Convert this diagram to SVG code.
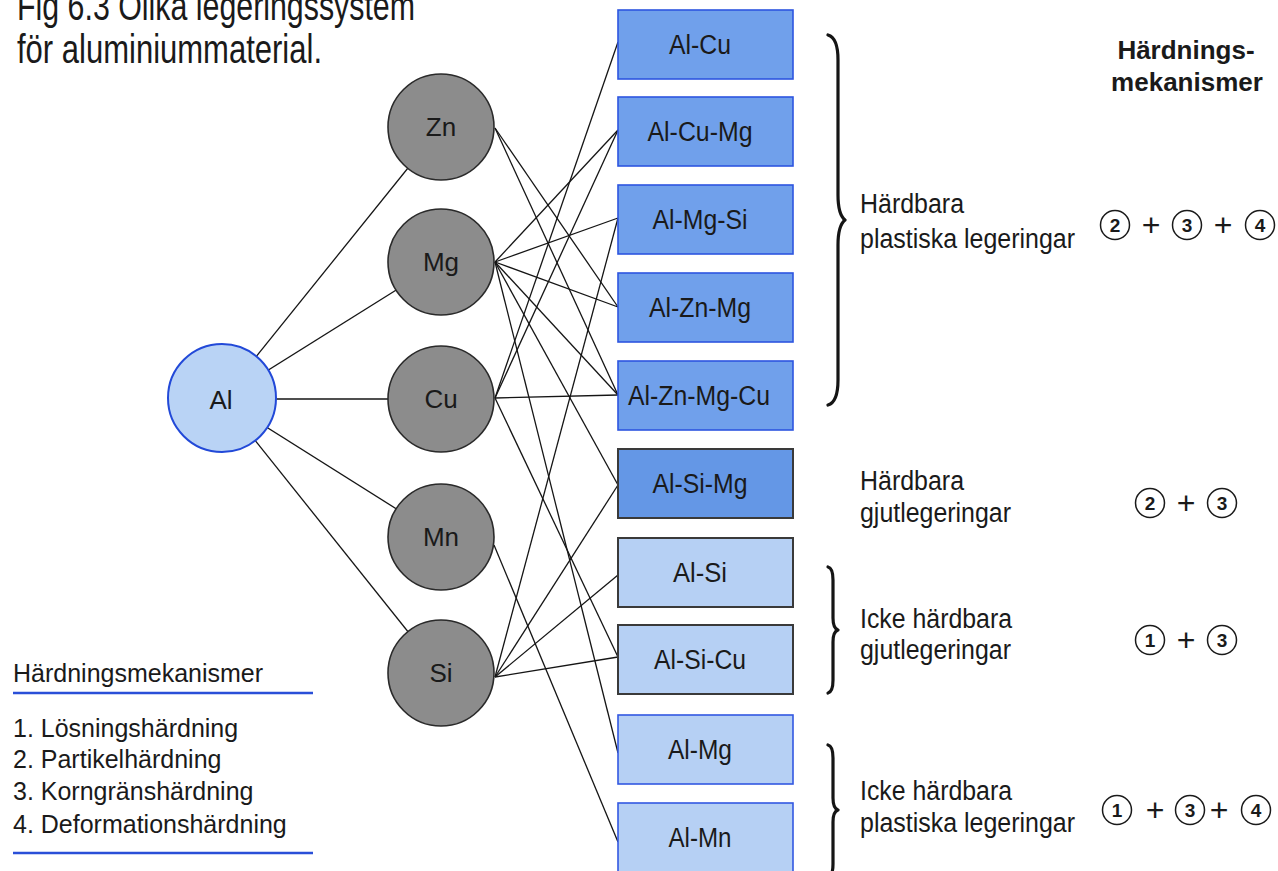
<svg xmlns="http://www.w3.org/2000/svg" width="1278" height="871" viewBox="0 0 1278 871">
  <style>
    text { font-family: "Liberation Sans", Arial, sans-serif; fill: #1a1a1a; }
    .title { font-size: 40px; }
    .head { font-size: 26px; font-weight: bold; text-anchor: middle; }
    .lbl { font-size: 27px; }
    .leg { font-size: 25px; }
    .node { font-size: 26px; text-anchor: middle; }
    .box { font-size: 27px; text-anchor: middle; }
    .elem { fill: #8c8c8c; stroke: #2a2a2a; stroke-width: 1.6; }
    .base { fill: #b9d3f5; stroke: #2249d8; stroke-width: 2; }
    .hardw { fill: #70a0eb; stroke: #2d55e0; stroke-width: 1.6; }
    .hardc { fill: #6497e6; stroke: #3a3a3a; stroke-width: 2; }
    .softc { fill: #b6d0f4; stroke: #3a3a3a; stroke-width: 2; }
    .softw { fill: #b6d0f4; stroke: #3358e2; stroke-width: 1.6; }
    .edge { stroke: #151515; stroke-width: 1.3; fill: none; }
    .brace { stroke: #151515; stroke-width: 3.2; fill: none; stroke-linecap: round; stroke-linejoin: round; }
    .rule { stroke: #2a4fd8; stroke-width: 2.5; }
    .num { fill: none; stroke: #1a1a1a; stroke-width: 1.5; }
    .dig { font-size: 19px; text-anchor: middle; font-weight: bold; }
    .plus { font-size: 32px; text-anchor: middle; }
  </style>

  <!-- caption -->
  <text class="title" x="17" y="20" textLength="398" lengthAdjust="spacingAndGlyphs">Fig 6.3 Olika legeringssystem</text>
  <text class="title" x="17" y="63" textLength="305" lengthAdjust="spacingAndGlyphs">för aluminiummaterial.</text>

  <!-- connectors -->
  <g id="connectors">
    <!-- Al to alloying elements -->
    <line class="edge" x1="222" y1="399" x2="441" y2="127"/>
    <line class="edge" x1="222" y1="399" x2="441" y2="262"/>
    <line class="edge" x1="222" y1="399" x2="441" y2="399"/>
    <line class="edge" x1="222" y1="399" x2="441" y2="537"/>
    <line class="edge" x1="222" y1="399" x2="441" y2="673"/>
    <!-- Zn -->
    <line class="edge" x1="495" y1="128" x2="618" y2="307"/>
    <line class="edge" x1="495" y1="128" x2="618" y2="395"/>
    <!-- Mg -->
    <line class="edge" x1="495" y1="262" x2="618" y2="130"/>
    <line class="edge" x1="495" y1="262" x2="618" y2="218"/>
    <line class="edge" x1="495" y1="262" x2="618" y2="307"/>
    <line class="edge" x1="495" y1="262" x2="618" y2="395"/>
    <line class="edge" x1="495" y1="262" x2="618" y2="485"/>
    <line class="edge" x1="495" y1="262" x2="618" y2="753"/>
    <!-- Cu -->
    <line class="edge" x1="495" y1="398" x2="618" y2="42"/>
    <line class="edge" x1="495" y1="398" x2="618" y2="130"/>
    <line class="edge" x1="495" y1="398" x2="618" y2="395"/>
    <line class="edge" x1="495" y1="398" x2="618" y2="657"/>
    <!-- Mn -->
    <line class="edge" x1="494" y1="545" x2="618" y2="842"/>
    <!-- Si -->
    <line class="edge" x1="495" y1="677" x2="618" y2="218"/>
    <line class="edge" x1="495" y1="677" x2="618" y2="485"/>
    <line class="edge" x1="495" y1="677" x2="618" y2="575"/>
    <line class="edge" x1="495" y1="677" x2="618" y2="657"/>
  </g>

  <!-- base metal -->
  <g id="n-al">
    <circle class="base" cx="222" cy="398" r="54"/>
    <text class="node" x="221" y="409">Al</text>
  </g>

  <!-- alloying elements -->
  <g id="n-zn"><circle class="elem" cx="441" cy="127" r="53"/><text class="node" x="441" y="136">Zn</text></g>
  <g id="n-mg"><circle class="elem" cx="441" cy="262" r="53"/><text class="node" x="441" y="271">Mg</text></g>
  <g id="n-cu"><circle class="elem" cx="441" cy="399" r="53"/><text class="node" x="441" y="408">Cu</text></g>
  <g id="n-mn"><circle class="elem" cx="441" cy="537" r="53"/><text class="node" x="441" y="546">Mn</text></g>
  <g id="n-si"><circle class="elem" cx="441" cy="673" r="53"/><text class="node" x="441" y="682">Si</text></g>

  <!-- alloy systems -->
  <g id="b-alcu"><rect class="hardw" x="618" y="10" width="175" height="69"/><text class="box" x="700" y="54" textLength="62" lengthAdjust="spacingAndGlyphs">Al-Cu</text></g>
  <g id="b-alcumg"><rect class="hardw" x="618" y="97" width="175" height="69"/><text class="box" x="700" y="141" textLength="105" lengthAdjust="spacingAndGlyphs">Al-Cu-Mg</text></g>
  <g id="b-almgsi"><rect class="hardw" x="618" y="185" width="175" height="69"/><text class="box" x="700" y="229" textLength="95" lengthAdjust="spacingAndGlyphs">Al-Mg-Si</text></g>
  <g id="b-alznmg"><rect class="hardw" x="618" y="273" width="175" height="69"/><text class="box" x="700" y="317" textLength="102" lengthAdjust="spacingAndGlyphs">Al-Zn-Mg</text></g>
  <g id="b-alznmgcu"><rect class="hardw" x="618" y="361" width="175" height="69"/><text class="box" x="699" y="405" textLength="142" lengthAdjust="spacingAndGlyphs">Al-Zn-Mg-Cu</text></g>
  <g id="b-alsimg"><rect class="hardc" x="618" y="449" width="175" height="69"/><text class="box" x="700" y="493" textLength="95" lengthAdjust="spacingAndGlyphs">Al-Si-Mg</text></g>
  <g id="b-alsi"><rect class="softc" x="618" y="538" width="175" height="69"/><text class="box" x="700" y="582" textLength="54" lengthAdjust="spacingAndGlyphs">Al-Si</text></g>
  <g id="b-alsicu"><rect class="softc" x="618" y="625" width="175" height="69"/><text class="box" x="700" y="669" textLength="92" lengthAdjust="spacingAndGlyphs">Al-Si-Cu</text></g>
  <g id="b-almg"><rect class="softw" x="618" y="715" width="175" height="69"/><text class="box" x="700" y="759" textLength="64" lengthAdjust="spacingAndGlyphs">Al-Mg</text></g>
  <g id="b-almn"><rect class="softw" x="618" y="803" width="175" height="69"/><text class="box" x="700" y="847" textLength="63" lengthAdjust="spacingAndGlyphs">Al-Mn</text></g>

  <!-- group braces -->
  <g id="braces">
    <path class="brace" d="M828,35 C835,37 838,45 838,60 L838,195 C838,209 840,216 845,220 C840,224 838,231 838,245 L838,380 C838,395 835,403 828,405"/>
    <path class="brace" d="M828,567 C832,568 833,573 833,580 L833,618 C833,625 835,629 838,630 C835,631 833,635 833,642 L833,680 C833,687 832,692 828,693"/>
    <path class="brace" d="M828,745 C832,746 833,751 833,758 L833,798 C833,805 835,809 838,810 C835,811 833,815 833,822 L833,864 C833,871 832,876 828,877"/>
  </g>

  <!-- group labels -->
  <g id="labels">
    <text class="lbl" x="860" y="213" textLength="104" lengthAdjust="spacingAndGlyphs">Härdbara</text>
    <text class="lbl" x="860" y="248" textLength="215" lengthAdjust="spacingAndGlyphs">plastiska legeringar</text>
    <text class="lbl" x="860" y="490" textLength="104" lengthAdjust="spacingAndGlyphs">Härdbara</text>
    <text class="lbl" x="860" y="522" textLength="151" lengthAdjust="spacingAndGlyphs">gjutlegeringar</text>
    <text class="lbl" x="860" y="628" textLength="152" lengthAdjust="spacingAndGlyphs">Icke härdbara</text>
    <text class="lbl" x="860" y="659" textLength="151" lengthAdjust="spacingAndGlyphs">gjutlegeringar</text>
    <text class="lbl" x="860" y="800" textLength="152" lengthAdjust="spacingAndGlyphs">Icke härdbara</text>
    <text class="lbl" x="860" y="832" textLength="215" lengthAdjust="spacingAndGlyphs">plastiska legeringar</text>
  </g>

  <!-- mechanism column -->
  <g id="mechanisms">
    <text class="head" x="1186" y="59">Härdnings-</text>
    <text class="head" x="1187" y="91">mekanismer</text>

    <circle class="num" cx="1115" cy="225" r="14.5"/><text class="dig" x="1115" y="232">2</text>
    <text class="plus" x="1151" y="236">+</text>
    <circle class="num" cx="1187" cy="225" r="14.5"/><text class="dig" x="1187" y="232">3</text>
    <text class="plus" x="1223" y="236">+</text>
    <circle class="num" cx="1260" cy="225" r="14.5"/><text class="dig" x="1260" y="232">4</text>

    <circle class="num" cx="1150" cy="503" r="14.5"/><text class="dig" x="1150" y="510">2</text>
    <text class="plus" x="1186" y="514">+</text>
    <circle class="num" cx="1222" cy="503" r="14.5"/><text class="dig" x="1222" y="510">3</text>

    <circle class="num" cx="1150" cy="640" r="14.5"/><text class="dig" x="1150" y="647">1</text>
    <text class="plus" x="1186" y="651">+</text>
    <circle class="num" cx="1222" cy="640" r="14.5"/><text class="dig" x="1222" y="647">3</text>

    <circle class="num" cx="1117" cy="810" r="14.5"/><text class="dig" x="1117" y="817">1</text>
    <text class="plus" x="1155" y="821">+</text>
    <circle class="num" cx="1190" cy="810" r="14.5"/><text class="dig" x="1190" y="817">3</text>
    <text class="plus" x="1219" y="821">+</text>
    <circle class="num" cx="1256" cy="810" r="14.5"/><text class="dig" x="1256" y="817">4</text>
  </g>

  <!-- legend -->
  <g id="legend">
    <text class="leg" x="13" y="682">Härdningsmekanismer</text>
    <line class="rule" x1="13" y1="693" x2="313" y2="693"/>
    <text class="leg" x="13" y="737">1. Lösningshärdning</text>
    <text class="leg" x="13" y="768">2. Partikelhärdning</text>
    <text class="leg" x="13" y="800">3. Korngränshärdning</text>
    <text class="leg" x="13" y="833">4. Deformationshärdning</text>
    <line class="rule" x1="13" y1="853" x2="313" y2="853"/>
  </g>
</svg>
